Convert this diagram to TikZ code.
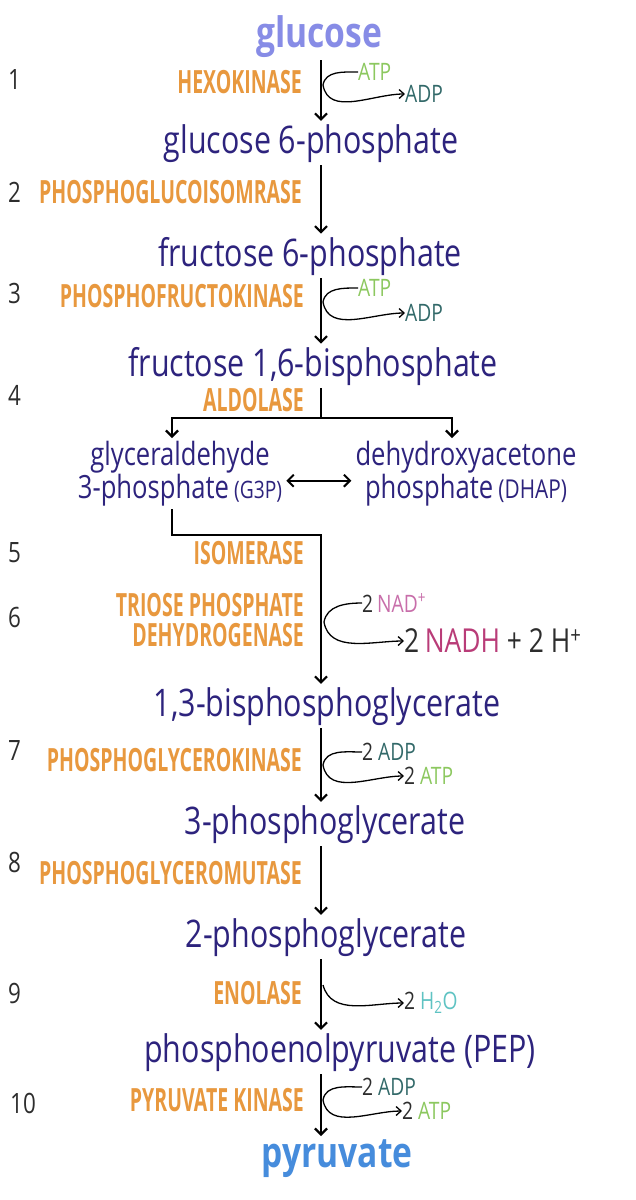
\documentclass[tikz,border=0pt]{standalone}
\usepackage{fontspec}
\usepackage{tikz}
\usetikzlibrary{arrows.meta, positioning, calc}
\setmainfont{Open Sans}
\newfontfamily\handfont{Open Sans}[FakeStretch=0.8]
\newfontfamily\enzfont{Open Sans}[FakeStretch=0.61]
\definecolor{metablue}{RGB}{45, 35, 125}
\definecolor{glclilac}{RGB}{135, 140, 230}
\definecolor{pyrblue}{RGB}{70, 140, 220}
\definecolor{enzorange}{RGB}{232, 152, 62}
\definecolor{atpgreen}{RGB}{140, 200, 95}
\definecolor{adpteal}{RGB}{50, 105, 105}
\definecolor{nadpink}{RGB}{200, 110, 170}
\definecolor{nadhred}{RGB}{185, 60, 120}
\definecolor{watercyan}{RGB}{95, 195, 195}
\definecolor{stepgrey}{RGB}{45, 45, 45}

\begin{document}
\begin{tikzpicture}[x=1pt, y=-1pt,
  met/.style={inner sep=0pt, anchor=base, text=metablue, font=\handfont\fontsize{38}{40}\selectfont},
  pair/.style={inner sep=0pt, anchor=north, align=center, text=metablue, font=\handfont\fontsize{32}{30}\selectfont},
  ends/.style={inner sep=0pt, anchor=base, font=\handfont\bfseries\fontsize{42}{44}\selectfont},
  enz/.style={inner sep=0pt, anchor=east, align=right, text=enzorange, font=\enzfont\bfseries\fontsize{32}{30}\selectfont},
  num/.style={inner sep=0pt, anchor=west, text=stepgrey, font=\handfont\fontsize{28}{30}\selectfont},
  cof/.style={inner sep=0pt, anchor=west, text=stepgrey, font=\handfont\fontsize{24}{26}\selectfont},
  flow/.style={line width=2.2pt, shorten <=3pt, shorten >=3pt, -{Straight Barb[length=6pt,width=12pt]}},
  side/.style={line width=1.3pt, -{Straight Barb[length=5pt,width=9pt]}},
]
  \fill[white] (0,0) rectangle (635,1200);
  \useasboundingbox (0,0) rectangle (635,1200);
  \coordinate (spine) at (321,0);

  % Metabolites
  \node[ends, text=glclilac] (glc) at (319,47) {glucose};
  \node[met] (g6p) at (311,153) {glucose 6-phosphate};
  \node[met] (f6p) at (310,266) {fructose 6-phosphate};
  \node[met] (f16bp) at (313,376) {fructose 1,6-bisphosphate};
  \node[pair] (g3p) at (180,441) {glyceraldehyde\\3-phosphate\,{\fontsize{24}{24}\selectfont(G3P)}};
  \node[pair] (dhap) at (466,441) {dehydroxyacetone\\phosphate\,{\fontsize{26}{26}\selectfont(DHAP)}};
  \node[met] (bpg13) at (327,716) {1,3-bisphosphoglycerate};
  \node[met] (pg3) at (325,834) {3-phosphoglycerate};
  \node[met] (pg2) at (326,947) {2-phosphoglycerate};
  \node[met] (pep) at (340,1062) {phosphoenolpyruvate (PEP)};
  \node[ends, text=pyrblue] (pyr) at (337,1167) {pyruvate};

  % Step numbers
  \node[num] (n1) at (8,80) {1};
  \node[num] (n2) at (8,192) {2};
  \node[num] (n3) at (8,293) {3};
  \node[num] (n4) at (8,395) {4};
  \node[num] (n5) at (8,553) {5};
  \node[num] (n6) at (8,617) {6};
  \node[num] (n7) at (8,750) {7};
  \node[num] (n8) at (8,862) {8};
  \node[num] (n9) at (8,993) {9};
  \node[num] (n10) at (10,1103) {10};

  % Enzymes
  \node[enz] (e1) at (302,82) {HEXOKINASE};
  \node[enz] (e2) at (302,192) {PHOSPHOGLUCOISOMRASE};
  \node[enz] (e3) at (304,296) {PHOSPHOFRUCTOKINASE};
  \node[enz] (e4) at (304,400) {ALDOLASE};
  \node[enz] (e5) at (304,553) {ISOMERASE};
  \node[enz] (e6) at (304,620) {TRIOSE PHOSPHATE\\DEHYDROGENASE};
  \node[enz] (e7) at (302,760) {PHOSPHOGLYCEROKINASE};
  \node[enz] (e8) at (302,873) {PHOSPHOGLYCEROMUTASE};
  \node[enz] (e9) at (302,993) {ENOLASE};
  \node[enz] (e10) at (304,1100) {PYRUVATE KINASE};

  % Main chain
  \draw[flow] (glc.south -| spine) -- (g6p.north -| spine);
  \draw[flow] (g6p.south -| spine) -- (f6p.north -| spine);
  \draw[flow] (f6p.south -| spine) -- (f16bp.north -| spine);
  \coordinate (split) at (321,418);
  \draw[line width=2.2pt, shorten <=3pt] (f16bp.south -| spine) -- (split);
  \draw[flow, shorten <=0pt] (split) -| ([xshift=-8pt]g3p.north);
  \draw[flow, shorten <=0pt] (split) -| ([xshift=-14pt]dhap.north);
  \draw[line width=2pt, shorten <=4pt, shorten >=4pt, {Straight Barb[length=6pt,width=12pt]}-{Straight Barb[length=6pt,width=12pt]}]
    ([yshift=-7pt]g3p.east) -- ([yshift=-7pt]dhap.west);
  \coordinate (turn) at (321,535);
  \draw[flow, sharp corners] ([xshift=-8pt]g3p.south) |- (turn) -- (bpg13.north -| spine);
  \draw[flow] (bpg13.south -| spine) -- (pg3.north -| spine);
  \draw[flow] (pg3.south -| spine) -- (pg2.north -| spine);
  \draw[flow] (pg2.south -| spine) -- (pep.north -| spine);
  \draw[flow] (pep.south -| spine) -- (pyr.north -| spine);

  % Cofactors
  \node[cof, text=atpgreen] (in1) at (358,72) {ATP};
  \node[cof, text=adpteal] (out1) at (405,94) {ADP};
  \coordinate (k1) at (323,85);
  \draw[side] (in1.west) to[out=180,in=80] (k1) to[out=-80,in=180] (out1.west);

  \node[cof, text=atpgreen] (in3) at (358,288) {ATP};
  \node[cof, text=adpteal] (out3) at (405,313) {ADP};
  \coordinate (k3) at (323,302);
  \draw[side] (in3.west) to[out=180,in=80] (k3) to[out=-80,in=180] (out3.west);

  \node[cof] (in6) at (362,603) {2\,\textcolor{nadpink}{NAD\textsuperscript{+}}};
  \node[cof, font=\handfont\fontsize{33}{34}\selectfont] (out6) at (404,641)
    {2\,\textcolor{nadhred}{NADH} + 2 H\textsuperscript{+}};
  \coordinate (k6) at (324,622);
  \draw[side] (in6.west) to[out=180,in=80] (k6) to[out=-80,in=180] (out6.west);

  \node[cof] (in7) at (362,752) {2 \textcolor{adpteal}{ADP}};
  \node[cof] (out7) at (404,776) {2 \textcolor{atpgreen}{ATP}};
  \coordinate (k7) at (323,765);
  \draw[side] (in7.west) to[out=180,in=80] (k7) to[out=-80,in=180] (out7.west);

  \node[cof] (out9) at (404,1003) {2 \textcolor{watercyan}{H\textsubscript{2}O}};
  \coordinate (k9) at (323,985);
  \draw[side] (k9) to[out=-75,in=180] (out9.west);

  \node[cof] (in10) at (362,1087) {2 \textcolor{adpteal}{ADP}};
  \node[cof] (out10) at (402,1111) {2 \textcolor{atpgreen}{ATP}};
  \coordinate (k10) at (323,1100);
  \draw[side] (in10.west) to[out=180,in=80] (k10) to[out=-80,in=180] (out10.west);
\end{tikzpicture}
\end{document}
